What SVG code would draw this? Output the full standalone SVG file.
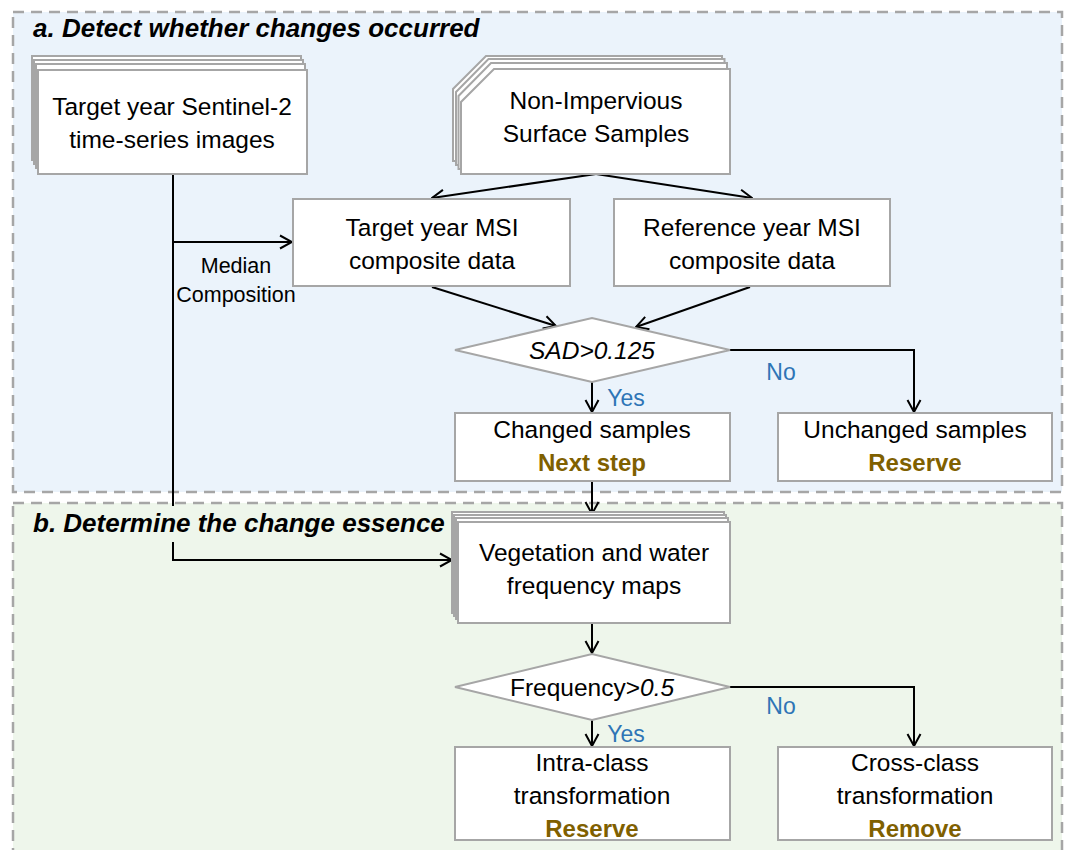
<svg xmlns="http://www.w3.org/2000/svg" width="1070" height="850" viewBox="0 0 1070 850">
<style>
.panel{stroke:#A6A6A6;stroke-width:2.5;stroke-dasharray:11 7}
.box{fill:#fff;stroke:#A6A6A6;stroke-width:2}
.t{font-family:"Liberation Sans",Arial,sans-serif;font-size:24.5px;fill:#000;text-anchor:middle}
.title{font-family:"Liberation Sans",Arial,sans-serif;font-size:26px;font-weight:bold;font-style:italic;fill:#000}
.small{font-family:"Liberation Sans",Arial,sans-serif;font-size:21.5px;fill:#000;text-anchor:middle}
.yn{font-family:"Liberation Sans",Arial,sans-serif;font-size:23px;fill:#2E75B6;text-anchor:middle}
.act{font-family:"Liberation Sans",Arial,sans-serif;font-size:24px;font-weight:bold;fill:#7F6000;text-anchor:middle}
.it{font-style:italic}
.con{fill:none;stroke:#000;stroke-width:2}
</style>
<defs>
<marker id="arr" markerUnits="userSpaceOnUse" markerWidth="14" markerHeight="16" viewBox="0 0 14 16" refX="13" refY="8" orient="auto">
<path d="M1,1.5 L13,8 L1,14.5" fill="none" stroke="#000" stroke-width="2"/>
</marker>
</defs>
<rect x="0" y="0" width="1070" height="850" fill="#fff"/>
<g id="panel-a">
<rect class="panel" x="13" y="12" width="1049" height="480" fill="#EBF3FB"/>
<text class="title" x="33" y="37">a. Detect whether changes occurred</text>
</g>
<g id="panel-b">
<rect class="panel" x="13" y="503" width="1049" height="380" fill="#EEF6EB"/>
</g>
<g id="connectors">
<path class="con" d="M173,174 V560 H452" marker-end="url(#arr)"/>
<path class="con" d="M173,242 H292" marker-end="url(#arr)"/>
<path class="con" d="M596,174 L432,198" marker-end="url(#arr)"/>
<path class="con" d="M596,174 L752,198" marker-end="url(#arr)"/>
<path class="con" d="M432,287 L556,326" marker-end="url(#arr)"/>
<path class="con" d="M750,287 L636,327" marker-end="url(#arr)"/>
<path class="con" d="M730,350 H914 V412" marker-end="url(#arr)"/>
<path class="con" d="M592,382 V412" marker-end="url(#arr)"/>
<path class="con" d="M592,481 V514" marker-end="url(#arr)"/>
<path class="con" d="M592,623 V653" marker-end="url(#arr)"/>
<path class="con" d="M730,687 H914 V746" marker-end="url(#arr)"/>
<path class="con" d="M592,720 V746" marker-end="url(#arr)"/>
</g>
<g id="title-b">
<rect x="28" y="506" width="418" height="36" fill="#EEF6EB"/>
<text class="title" x="33" y="532">b. Determine the change essence</text>
</g>
<g id="median-label">
<text class="small" x="236" y="273">Median</text>
<text class="small" x="236" y="302">Composition</text>
</g>
<g id="sentinel">
<rect class="box" x="32" y="56" width="269" height="104"/>
<rect class="box" x="34" y="60" width="269" height="104"/>
<rect class="box" x="36" y="64" width="269" height="104"/>
<rect class="box" x="38" y="70" width="269" height="104"/>
<text class="t" x="172" y="115">Target year Sentinel-2</text>
<text class="t" x="172" y="148">time-series images</text>
</g>
<g id="non-impervious">
<path class="box" d="M486,56 H722 V161 H453 V89 Z"/>
<path class="box" d="M488.5,59 H724.5 V165 H456 V92 Z"/>
<path class="box" d="M491,63 H727 V169 H458.5 V96 Z"/>
<path class="box" d="M494,69 H730 V174 H461 V102 Z"/>
<text class="t" x="596" y="109">Non-Impervious</text>
<text class="t" x="596" y="142">Surface Samples</text>
</g>
<g id="target-msi">
<rect class="box" x="293" y="199" width="277" height="87"/>
<text class="t" x="432" y="236">Target year MSI</text>
<text class="t" x="432" y="269">composite data</text>
</g>
<g id="reference-msi">
<rect class="box" x="614" y="199" width="276" height="87"/>
<text class="t" x="752" y="236">Reference year MSI</text>
<text class="t" x="752" y="269">composite data</text>
</g>
<g id="sad">
<path class="box" d="M455,350 L592,318 L730,350 L592,382 Z"/>
<text class="t it" x="592" y="359">SAD&gt;0.125</text>
</g>
<g id="labels-a">
<text class="yn" x="781" y="380">No</text>
<text class="yn" x="626" y="406">Yes</text>
</g>
<g id="changed">
<rect class="box" x="455" y="413" width="275" height="68"/>
<text class="t" x="592" y="438">Changed samples</text>
<text class="act" x="592" y="471">Next step</text>
</g>
<g id="unchanged">
<rect class="box" x="778" y="413" width="274" height="68"/>
<text class="t" x="915" y="438">Unchanged samples</text>
<text class="act" x="915" y="471">Reserve</text>
</g>
<g id="vegetation">
<rect class="box" x="452" y="512" width="272" height="101"/>
<rect class="box" x="454" y="515" width="272" height="101"/>
<rect class="box" x="456" y="518" width="272" height="101"/>
<rect class="box" x="458" y="522" width="272" height="101"/>
<text class="t" x="594" y="561">Vegetation and water</text>
<text class="t" x="594" y="594">frequency maps</text>
</g>
<g id="frequency">
<path class="box" d="M455,687 L592,654 L730,687 L592,720 Z"/>
<text class="t" x="592" y="696">Frequency&gt;<tspan class="it">0.5</tspan></text>
</g>
<g id="labels-b">
<text class="yn" x="781" y="714">No</text>
<text class="yn" x="626" y="742">Yes</text>
</g>
<g id="intra">
<rect class="box" x="455" y="747" width="275" height="93"/>
<text class="t" x="592" y="771">Intra-class</text>
<text class="t" x="592" y="804">transformation</text>
<text class="act" x="592" y="837">Reserve</text>
</g>
<g id="cross">
<rect class="box" x="778" y="747" width="274" height="93"/>
<text class="t" x="915" y="771">Cross-class</text>
<text class="t" x="915" y="804">transformation</text>
<text class="act" x="915" y="837">Remove</text>
</g>
</svg>
